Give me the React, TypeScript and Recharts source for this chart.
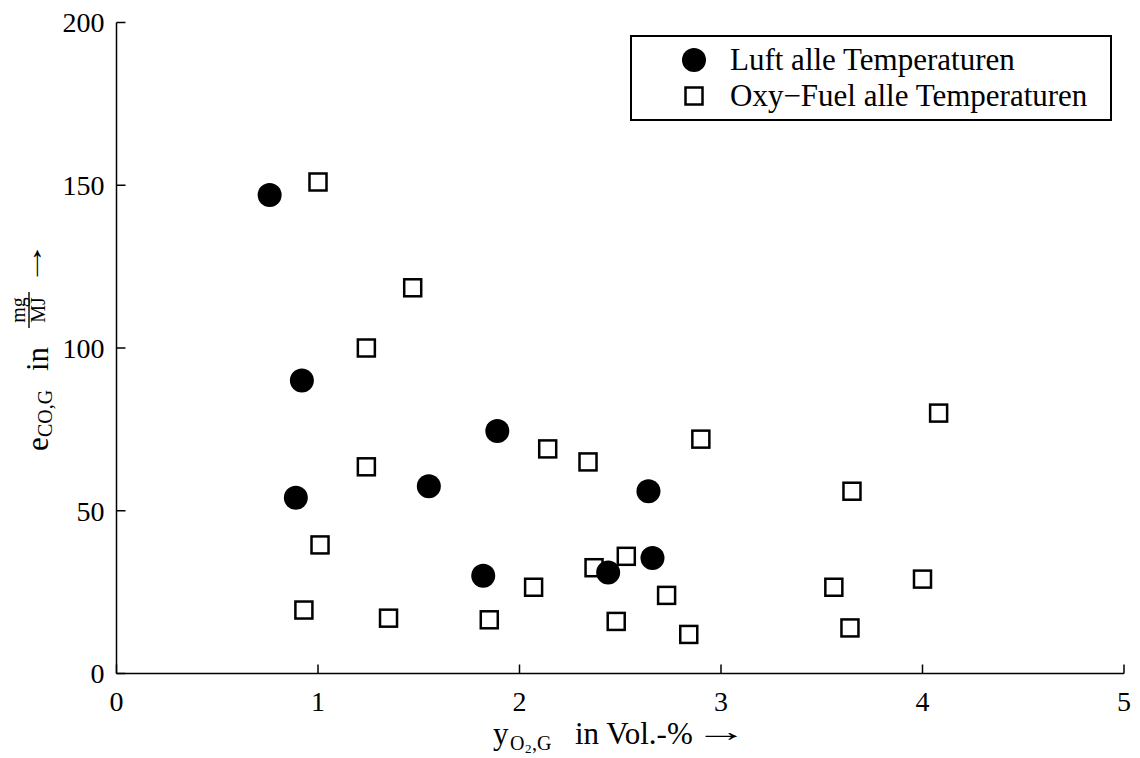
import React from 'react';
import { ScatterChart, Scatter, XAxis, YAxis, Legend } from 'recharts';

const luftX = [0.76, 0.92, 0.89, 1.55, 1.89, 1.82, 2.44, 2.64, 2.66];
const luftY = [147, 90, 54, 57.5, 74.5, 30, 31, 56, 35.5];
const oxyX = [1.0, 1.47, 1.24, 1.24, 1.01, 0.93, 1.35, 1.85, 2.07, 2.14, 2.34, 2.37, 2.53, 2.48, 2.73, 2.84, 2.9, 3.56, 3.65, 3.64, 4.0, 4.08];
const oxyY = [151, 118.5, 100, 63.5, 39.5, 19.5, 17, 16.5, 26.5, 69, 65, 32.5, 36, 16, 24, 12, 72, 26.5, 56, 14, 29, 80];
const xTicks = [0, 1, 2, 3, 4, 5];
const yTicks = [0, 50, 100, 150, 200];
const seriesNames = ['Luft alle Temperaturen', 'Oxy\u2212Fuel alle Temperaturen'];

const luftData = luftX.map((x, i) => ({ x, y: luftY[i] }));
const oxyData = oxyX.map((x, i) => ({ x, y: oxyY[i] }));

const FONT = '"Liberation Serif", "DejaVu Serif", serif';

const Circle = (p: any) => <circle cx={p.cx} cy={p.cy} r={12} fill="#000" />;
const Square = (p: any) => (
  <rect x={p.cx - 8.5} y={p.cy - 8.5} width={17} height={17} fill="none" stroke="#000" strokeWidth={2.5} />
);

const XLabel = () => (
  <g fontFamily={FONT} fill="#000">
    <text x={493} y={744} fontSize={31}>y</text>
    <text x={510} y={750} fontSize={20}>O</text>
    <text x={525} y={753} fontSize={13}>2</text>
    <text x={532} y={750} fontSize={20}>,G</text>
    <text x={575} y={744} fontSize={31}>in Vol.-%</text>
    <text transform="translate(695, 741) scale(1.9, 1)" x={0} y={0} fontSize={28}>{'\u2192'}</text>
  </g>
);

const YLabel = () => (
  <g transform="translate(48, 350) rotate(-90)" fontFamily={FONT} fill="#000">
    <text x={-101} y={0} fontSize={31}>e</text>
    <text x={-87} y={4} fontSize={20}>CO,G</text>
    <text x={-21} y={0} fontSize={31}>in</text>
    <text x={40} y={-23} fontSize={20} textAnchor="middle">mg</text>
    <line x1={22} x2={58} y1={-19} y2={-19} stroke="#000" strokeWidth={1.4} />
    <text x={40} y={-3} fontSize={20} textAnchor="middle">MJ</text>
    <text transform="translate(64, -6) scale(1.6, 1)" x={0} y={0} fontSize={28}>{'\u2192'}</text>
  </g>
);

const LegendBox = () => (
  <div
    style={{
      width: 482,
      height: 86,
      boxSizing: 'border-box',
      border: '2px solid #000',
      background: '#fff',
      fontFamily: FONT,
      fontSize: 31,
      position: 'relative',
    }}
  >
    <svg width={40} height={86} style={{ position: 'absolute', left: 42, top: 0 }}>
      <circle cx={20} cy={23} r={12} fill="#000" />
      <rect x={11.5} y={50.5} width={17} height={17} fill="none" stroke="#000" strokeWidth={2.5} />
    </svg>
    <div style={{ position: 'absolute', left: 98, top: 6, lineHeight: '34px', whiteSpace: 'nowrap' }}>{seriesNames[0]}</div>
    <div style={{ position: 'absolute', left: 98, top: 42, lineHeight: '34px', whiteSpace: 'nowrap' }}>{seriesNames[1]}</div>
  </div>
);

export default function App() {
  return (
    <div style={{ position: 'absolute', left: 0, top: 0, width: 1140, height: 758, background: '#fff' }}>
      <ScatterChart width={1140} height={758} margin={{ top: 22.5, right: 16, bottom: 44.5, left: 56.5 }}>
        <XAxis
          type="number"
          dataKey="x"
          domain={[0, 5]}
          ticks={xTicks}
          allowDataOverflow
          height={40}
          stroke="#000"
          axisLine={{ stroke: '#000', strokeWidth: 1.5 }}
          tickLine={{ stroke: '#000', strokeWidth: 1.5 }}
          tickSize={-9}
          tickMargin={27}
          tick={{ fontSize: 28, fill: '#000', fontFamily: FONT }}
          label={{ content: () => <XLabel /> }}
        />
        <YAxis
          type="number"
          dataKey="y"
          domain={[0, 200]}
          ticks={yTicks}
          allowDataOverflow
          width={60}
          stroke="#000"
          axisLine={{ stroke: '#000', strokeWidth: 1.5 }}
          tickLine={{ stroke: '#000', strokeWidth: 1.5 }}
          tickSize={-9}
          tickMargin={21}
          tick={{ fontSize: 28, fill: '#000', fontFamily: FONT }}
          label={{ content: () => <YLabel /> }}
        />
        <Legend
          layout="vertical"
          align="center"
          verticalAlign="middle"
          wrapperStyle={{ position: 'absolute', left: 630, top: 35, width: 482, height: 86 }}
          content={() => <LegendBox />}
        />
        <Scatter name={seriesNames[1]} data={oxyData} shape={Square} isAnimationActive={false} />
        <Scatter name={seriesNames[0]} data={luftData} shape={Circle} isAnimationActive={false} />
      </ScatterChart>
    </div>
  );
}
